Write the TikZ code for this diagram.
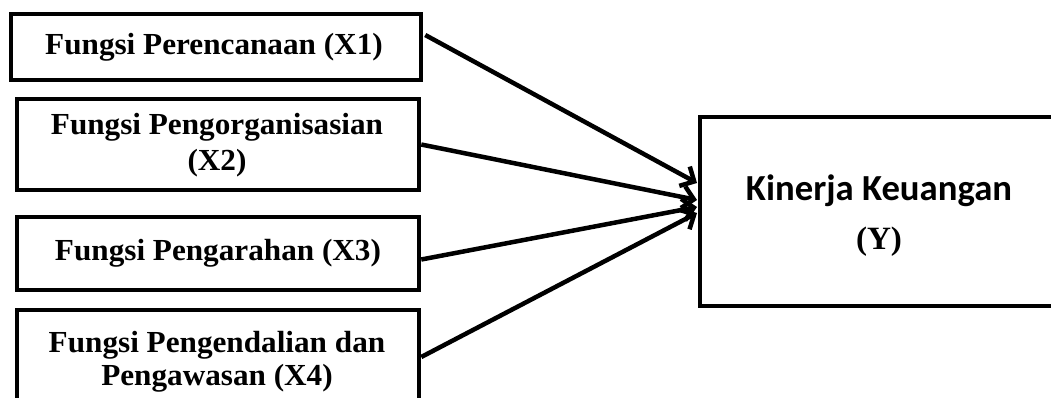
\documentclass[tikz,border=0pt]{standalone}
\usepackage{fontspec}
\setmainfont{Liberation Serif}
\newfontfamily\tnr[FakeStretch=1.02]{Liberation Serif}
\newfontfamily\calibri{Carlito}
\usetikzlibrary{arrows.meta,calc}
\begin{document}
\begin{tikzpicture}[x=1pt,y=-1pt,
  xbox/.style={draw,line width=4.5pt,inner sep=0pt},
  xtext/.style={align=center,font=\tnr\bfseries\fontsize{30.6}{36}\selectfont,inner sep=0pt},
  link/.style={line width=4.5pt,-{Straight Barb[length=11pt,width=22pt,line width=4.5pt]}}]
\useasboundingbox (0,0) rectangle (1051,397);
\fill[white] (0,0) rectangle (1051,397);
% left boxes
\node[xbox,minimum width=410pt,minimum height=66pt] (x1) at (216,47) {};
\node[xtext] (t1) at (214,47) {Fungsi Perencanaan (X1)};
\node[xbox,minimum width=402pt,minimum height=91pt] (x2) at (218,144.5) {};
\node[xtext] (t2) at (217,145) {Fungsi Pengorganisasian\\(X2)};
\node[xbox,minimum width=402pt,minimum height=73pt] (x3) at (218,253.5) {};
\node[xtext] (t3) at (218,253) {Fungsi Pengarahan (X3)};
\node[xbox,minimum width=402pt,minimum height=94pt] (x4) at (218,357) {};
\node[xtext,font=\tnr\bfseries\fontsize{30.6}{33}\selectfont] (t4) at (217,362) {Fungsi Pengendalian dan\\Pengawasan (X4)};
% right box
\node[xbox,minimum width=360pt,minimum height=189pt] (y) at (880,211.5) {};
\node[align=center,inner sep=0pt,font=\bfseries\fontsize{36.7}{49}\selectfont] (ty) at (879,216)
  {{\calibri Kinerja Keuangan}\\
   {\tnr\fontsize{32.5}{49}\selectfont (Y)}};
% arrow tips
\coordinate (e1) at (697,183);
\coordinate (e2) at (697,200);
\coordinate (e3) at (697,207);
\coordinate (e4) at (697,213);
\draw[link] ($(x1.east)+(2,-12)$) -- (e1);
\draw[link] (x2.east) -- (e2);
\draw[link] ($(x3.east)+(0,6)$) -- (e3);
\draw[link] (x4.east) -- (e4);
\end{tikzpicture}
\end{document}
